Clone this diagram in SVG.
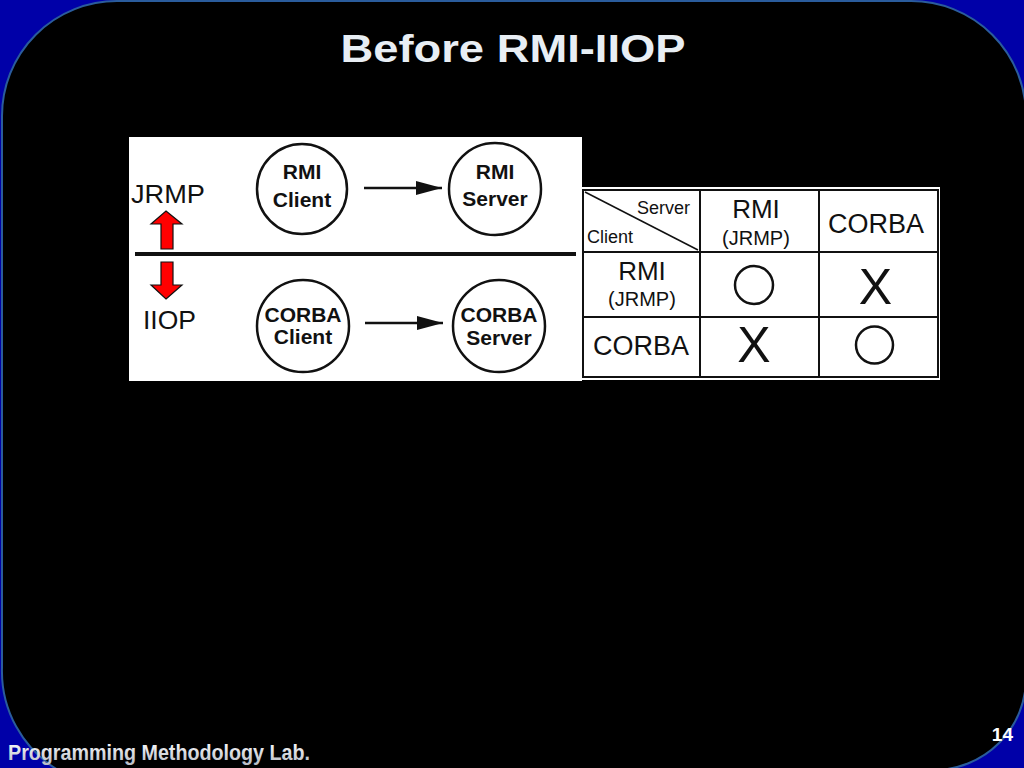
<svg xmlns="http://www.w3.org/2000/svg" width="1024" height="768" viewBox="0 0 1024 768">
<style>
.lbl{font-family:"Liberation Sans",Arial,sans-serif;fill:#111}
.node circle{fill:#fff;stroke:#111;stroke-width:2.5}
.node text{font-family:"Liberation Sans",Arial,sans-serif;font-weight:bold;font-size:21px;fill:#111;text-anchor:middle}
.grid{stroke:#111;stroke-width:2;fill:none}
</style>
<defs>
<marker id="ah" markerWidth="26" markerHeight="14" refX="26" refY="7" orient="auto" markerUnits="userSpaceOnUse" viewBox="0 0 26 14">
<path d="M0,0 L26,7 L0,14 Z" fill="#111"/>
</marker>
<linearGradient id="foot" x1="0" y1="0" x2="0" y2="1">
<stop offset="0" stop-color="#ffffff"/><stop offset="1" stop-color="#b8bcc4"/>
</linearGradient>
</defs>
<rect x="0" y="0" width="1024" height="768" fill="#0000a8"/>
<path d="M2,116 A115,115 0 0 1 117,1 L911,1 A115,115 0 0 1 1026,116 L1026,678 A92,92 0 0 1 934,770 L58,770 A115,115 0 0 1 2,668 Z" fill="#000" stroke="#2a5c9c" stroke-width="2"/>
<text x="513" y="62" font-family="Liberation Sans,Arial,sans-serif" font-weight="bold" font-size="38" fill="#e8eef4" text-anchor="middle" textLength="345" lengthAdjust="spacingAndGlyphs">Before RMI-IIOP</text>

<rect x="129" y="137" width="453" height="244" fill="#fff"/>
<text class="lbl" x="131" y="203" font-size="26.5" textLength="74" lengthAdjust="spacingAndGlyphs">JRMP</text>
<text class="lbl" x="143" y="329" font-size="26.5" textLength="53" lengthAdjust="spacingAndGlyphs">IIOP</text>
<line x1="135" y1="254" x2="576" y2="254" stroke="#111" stroke-width="4"/>
<path d="M166,211 L182,224 L173,224 L173,249 L161,249 L161,224 L151,224 Z" fill="#f00" stroke="#111" stroke-width="1.2"/>
<path d="M166,299 L182,285 L173,285 L173,262 L161,262 L161,285 L151,285 Z" fill="#f00" stroke="#111" stroke-width="1.2"/>

<g id="rmi-client" class="node"><circle cx="302" cy="189" r="45"/><text x="302" y="179">RMI</text><text x="302" y="207">Client</text></g>
<g id="rmi-server" class="node"><circle cx="495" cy="189" r="46"/><text x="495" y="179">RMI</text><text x="495" y="206">Server</text></g>
<g id="corba-client" class="node"><circle cx="303" cy="326" r="46"/><text x="303" y="322">CORBA</text><text x="303" y="344">Client</text></g>
<g id="corba-server" class="node"><circle cx="499" cy="326" r="46"/><text x="499" y="322">CORBA</text><text x="499" y="345">Server</text></g>

<g id="connectors" stroke="#111" stroke-width="2.5">
<line x1="364" y1="188" x2="442" y2="188" marker-end="url(#ah)"/>
<line x1="365" y1="323" x2="443" y2="323" marker-end="url(#ah)"/>
</g>

<g id="table">
<rect x="581" y="187" width="359" height="193" fill="#fff"/>
<rect class="grid" x="583" y="190" width="355" height="187"/>
<line class="grid" x1="700" y1="190" x2="700" y2="377"/>
<line class="grid" x1="819" y1="190" x2="819" y2="377"/>
<line class="grid" x1="583" y1="252" x2="938" y2="252"/>
<line class="grid" x1="583" y1="317" x2="938" y2="317"/>
<line stroke="#111" stroke-width="1.5" x1="585" y1="192" x2="698" y2="250"/>
<text class="lbl" x="690" y="214" font-size="18" text-anchor="end">Server</text>
<text class="lbl" x="587" y="243" font-size="18">Client</text>
<text class="lbl" x="756" y="218" font-size="26" text-anchor="middle">RMI</text>
<text class="lbl" x="756" y="245" font-size="20" text-anchor="middle">(JRMP)</text>
<text class="lbl" x="876" y="233" font-size="27" text-anchor="middle">CORBA</text>
<text class="lbl" x="642" y="280" font-size="26" text-anchor="middle">RMI</text>
<text class="lbl" x="642" y="306" font-size="20" text-anchor="middle">(JRMP)</text>
<text class="lbl" x="641" y="355" font-size="27" text-anchor="middle">CORBA</text>
<circle cx="754" cy="285" r="19" fill="none" stroke="#111" stroke-width="2.5"/>
<circle cx="874.5" cy="345" r="18.5" fill="none" stroke="#111" stroke-width="2.5"/>
<text class="lbl" x="875.5" y="304" font-size="50" text-anchor="middle">X</text>
<text class="lbl" x="754" y="362" font-size="50" text-anchor="middle">X</text>
</g>

<text x="8" y="760" font-family="Liberation Sans,Arial,sans-serif" font-weight="bold" font-size="22" fill="url(#foot)" textLength="302" lengthAdjust="spacingAndGlyphs">Programming Methodology Lab.</text>
<text x="1013" y="741" font-family="Liberation Sans,Arial,sans-serif" font-weight="bold" font-size="19" fill="#fff" text-anchor="end">14</text>
</svg>
